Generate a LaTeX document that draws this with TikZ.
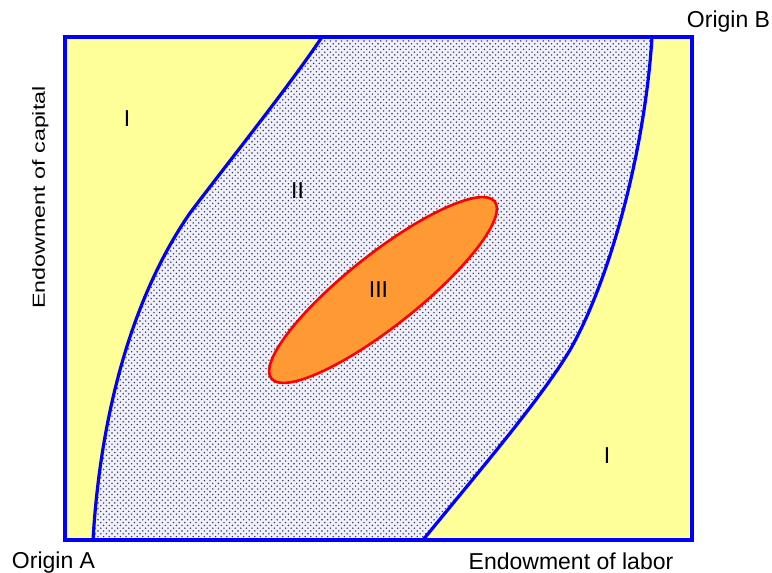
\documentclass[tikz,border=0pt]{standalone}
\usepackage{fontspec}
\setmainfont{Liberation Sans}
\usepackage{graphicx}
\usetikzlibrary{patterns}
\pgfdeclarepatternformonly{sdots}{\pgfqpoint{-1pt}{-1pt}}{\pgfqpoint{4.6pt}{4.6pt}}{\pgfqpoint{5.6pt}{5.6pt}}{%
  \pgfpathcircle{\pgfqpoint{0pt}{0pt}}{0.8pt}%
  \pgfpathcircle{\pgfqpoint{2.8pt}{2.8pt}}{0.8pt}%
  \pgfusepath{fill}}
\definecolor{byel}{HTML}{FFFF99}
\definecolor{lav}{HTML}{F0F0FA}
\definecolor{dotc}{HTML}{2E2E5C}
\definecolor{bblue}{HTML}{0000FF}
\definecolor{orng}{HTML}{FF9933}
\definecolor{rred}{HTML}{FF0000}
\begin{document}
\begin{tikzpicture}[x=1pt,y=-1pt,
  lbl/.style={font=\fontsize{23}{27}\selectfont, anchor=base, inner sep=0pt, text=black},
  bline/.style={draw=bblue, line width=3.2pt},
  eline/.style={draw=rred, fill=orng, line width=2.6pt}]
\useasboundingbox (0,0) rectangle (772,573);
% region I background
\fill[byel] (65,37) rectangle (692,540);
% region II
\fill[lav] (93,540) .. controls (100,420) and (130,300) .. (190,213) .. controls (230,160) and (290,85) .. (322,37)
  -- (652,37) .. controls (645,150) and (610,280) .. (570,350) .. controls (540,400) and (480,470) .. (423,540) -- cycle;
\fill[pattern=sdots, pattern color=dotc] (93,540) .. controls (100,420) and (130,300) .. (190,213) .. controls (230,160) and (290,85) .. (322,37)
  -- (652,37) .. controls (645,150) and (610,280) .. (570,350) .. controls (540,400) and (480,470) .. (423,540) -- cycle;
% boundaries
\draw[bline] (93,540) .. controls (100,420) and (130,300) .. (190,213) .. controls (230,160) and (290,85) .. (322,37);
\draw[bline] (652,37) .. controls (645,150) and (610,280) .. (570,350) .. controls (540,400) and (480,470) .. (423,540);
\draw[bline] (65,37) rectangle (692,540);
% region III
\draw[eline, rotate around={38.4:(383,290)}] (383,290) ellipse [x radius=142.5pt, y radius=36pt];
% labels
\node[lbl] (r1a) at (127,126) {I};
\node[lbl] (r2) at (297.5,198) {II};
\node[lbl] (r3) at (378.5,297) {III};
\node[lbl] (r1b) at (607,463) {I};
\node[lbl] (oa) at (53.5,568) {Origin A};
\node[lbl] (ob) at (728.5,27) {Origin B};
\node[lbl] (el) at (571,569) {Endowment of labor};
\node[lbl, rotate=90] (ec) at (45,197.5) {\scalebox{1.33}[1]{\fontsize{17.5}{20}\selectfont Endowment of capital}};
\end{tikzpicture}
\end{document}
